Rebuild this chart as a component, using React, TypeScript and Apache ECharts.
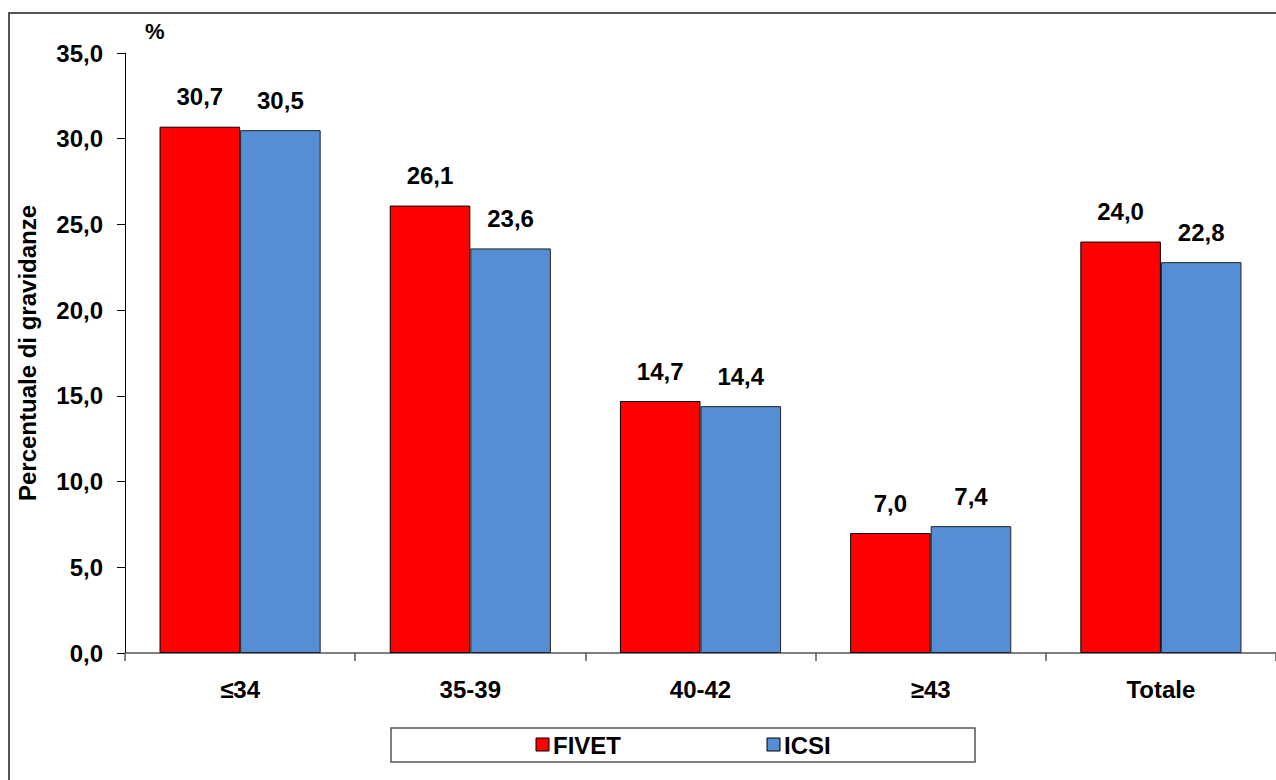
import React, { useEffect, useRef } from "react";
import * as echarts from "echarts";

const categories = ["≤34", "35-39", "40-42", "≥43", "Totale"];
const fivet = [30.7, 26.1, 14.7, 7.0, 24.0];
const icsi = [30.5, 23.6, 14.4, 7.4, 22.8];
const seriesNames = ["FIVET", "ICSI"];
const yTitle = "Percentuale di gravidanze";
const unit = "%";

const FONT = "'Liberation Sans', Arial, sans-serif";
const FS = 24;
const fmt = (v: number) => v.toFixed(1).replace(".", ",");

export default function App() {
  const ref = useRef<HTMLDivElement>(null);
  useEffect(() => {
    if (!ref.current) return;
    const chart = echarts.init(ref.current, null, { renderer: "svg" });
    const label = {
      show: true,
      position: "top",
      distance: 18,
      formatter: (p: any) => fmt(p.value),
      fontFamily: FONT,
      fontWeight: "bold",
      fontSize: FS,
      color: "#000",
    };
    chart.setOption({
      animation: false,
      backgroundColor: "#fff",
      textStyle: { fontFamily: FONT },
      grid: { left: 125, right: -1, top: 53, bottom: 127 },
      legend: { show: false },
      xAxis: {
        type: "category",
        data: categories,
        axisLine: { lineStyle: { color: "#555", width: 1.5 } },
        axisTick: { show: true, length: 8, lineStyle: { color: "#555", width: 1.5 } },
        axisLabel: {
          margin: 24,
          fontFamily: FONT,
          fontWeight: "bold",
          fontSize: FS,
          color: "#000",
        },
      },
      yAxis: {
        type: "value",
        min: 0,
        max: 35,
        interval: 5,
        name: yTitle,
        nameLocation: "middle",
        nameGap: 86,
        nameTextStyle: { fontFamily: FONT, fontWeight: "bold", fontSize: FS, color: "#000" },
        splitLine: { show: false },
        axisLine: { show: true, lineStyle: { color: "#000", width: 1 } },
        axisTick: { show: true, length: 8, lineStyle: { color: "#000" } },
        axisLabel: {
          margin: 22,
          formatter: (v: number) => fmt(v),
          fontFamily: FONT,
          fontWeight: "bold",
          fontSize: FS,
          color: "#000",
        },
      },
      series: [
        {
          name: seriesNames[0],
          type: "bar",
          data: fivet,
          barGap: "0%",
          barCategoryGap: "30%",
          itemStyle: { color: "#FF0000", borderColor: "#000", borderWidth: 1 },
          label,
        },
        {
          name: seriesNames[1],
          type: "bar",
          data: icsi,
          itemStyle: { color: "#558ED5", borderColor: "#222", borderWidth: 1 },
          label,
        },
      ],
      graphic: [
        {
          type: "rect",
          shape: { x: 9, y: 13, width: 1400, height: 900 },
          style: { fill: "none", stroke: "#555", lineWidth: 2 },
          silent: true,
        },
        {
          type: "text",
          x: 145,
          y: 20,
          style: { text: unit, fontFamily: FONT, fontWeight: "bold", fontSize: 22, fill: "#000" },
        },
        {
          type: "line",
          shape: { x1: 1150, y1: 541, x2: 1153, y2: 553 },
          style: { stroke: "#000", lineWidth: 1.2 },
        },
        {
          type: "group",
          children: [
            {
              type: "rect",
              shape: { x: 391, y: 728, width: 584, height: 34 },
              style: { fill: "#fff", stroke: "#555", lineWidth: 1.5 },
            },
            {
              type: "rect",
              shape: { x: 536, y: 738, width: 13, height: 13 },
              style: { fill: "#FF0000", stroke: "#000", lineWidth: 1 },
            },
            {
              type: "text",
              x: 553,
              y: 745,
              style: {
                text: seriesNames[0],
                fontFamily: FONT,
                fontWeight: "bold",
                fontSize: FS,
                fill: "#000",
                verticalAlign: "middle",
              },
            },
            {
              type: "rect",
              shape: { x: 767, y: 738, width: 13, height: 13 },
              style: { fill: "#558ED5", stroke: "#000", lineWidth: 1 },
            },
            {
              type: "text",
              x: 784,
              y: 745,
              style: {
                text: seriesNames[1],
                fontFamily: FONT,
                fontWeight: "bold",
                fontSize: FS,
                fill: "#000",
                verticalAlign: "middle",
              },
            },
          ],
        },
      ],
    });
    return () => chart.dispose();
  }, []);
  return <div ref={ref} style={{ width: 1276, height: 780, position: "absolute", left: 0, top: 0 }} />;
}
